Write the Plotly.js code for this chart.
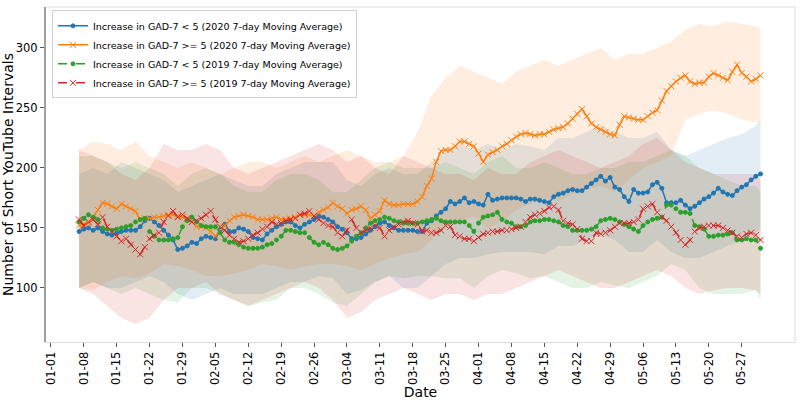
<!DOCTYPE html>
<html>
<head>
<meta charset="utf-8">
<script src="https://cdn.plot.ly/plotly-3.0.1.min.js"></script>
<style>html,body{margin:0;padding:0;background:#fff}#chart{width:800px;height:400px}</style>
</head>
<body>
<div id="chart"></div>
<script>
// Daily 7-day moving averages, 2020-01-07 .. 2020-05-31
const seriesStart = '2020-01-07';
const blue2020Low = [147,149,150,148,150,147,145,144,146,147,148,148,148,151,156,158,155,152,148,144,140,132,133,135,138,137,141,143,142,141,148,153,147,147,150,149,147,142,141,140,145,148,151,153,155,155,152,150,153,155,157,160,159,157,155,151,149,146,141,141,142,145,148,151,154,155,152,150,148,148,148,148,147,147,154,156,160,163,166,172,170,172,175,171,172,170,169,178,173,174,175,175,175,175,174,172,174,174,173,172,171,176,178,179,181,182,181,181,184,187,190,193,189,192,184,182,176,172,182,179,179,180,186,188,183,171,171,171,173,169,166,168,171,174,176,179,183,180,178,177,181,184,186,190,193,195];
const orange2020High = [152,153,154,159,165,171,170,168,166,170,168,166,164,157,158,158,159,159,160,161,161,160,159,157,155,151,151,150,147,143,148,152,156,159,160,161,160,159,157,157,157,158,159,157,157,158,159,161,161,161,160,163,165,167,171,168,166,162,165,166,168,165,158,161,164,173,170,169,169,170,170,170,172,176,185,191,205,214,215,215,218,222,222,220,218,212,205,211,213,215,218,220,223,226,228,229,228,227,228,228,230,232,233,234,237,241,245,249,243,237,234,232,230,228,227,236,243,242,241,240,240,243,246,248,256,264,268,272,275,277,272,270,271,271,276,279,277,275,273,280,286,279,276,272,274,277];
const green2019Low = [155,158,161,159,157,150,149,148,149,150,151,152,155,157,158,147,143,140,140,140,141,142,151,156,159,155,152,151,151,151,146,140,138,138,136,134,133,133,133,134,136,137,140,143,148,148,147,146,146,142,138,136,138,136,133,132,133,135,139,143,146,150,154,156,157,159,158,156,155,154,154,154,154,155,156,157,158,156,155,155,155,155,155,152,147,154,159,160,161,163,157,155,154,151,151,152,155,156,156,157,157,156,155,152,151,148,148,148,148,149,151,156,157,158,157,155,153,151,149,147,152,155,157,158,159,169,169,166,163,163,162,152,151,149,143,143,144,144,145,146,140,140,141,140,140,133];
const red2019High = [157,152,155,157,153,159,151,147,143,139,141,136,132,128,134,141,144,146,155,160,164,159,161,158,155,156,158,161,164,157,151,148,144,141,138,139,141,144,146,149,151,155,153,154,156,157,158,161,162,164,160,157,154,152,151,146,143,148,157,150,146,148,150,152,150,143,148,151,153,155,156,154,153,147,148,146,146,148,152,151,144,143,141,141,139,142,145,146,147,147,148,148,149,150,151,155,159,161,162,164,167,168,165,156,154,153,149,141,139,139,146,145,146,148,151,154,154,154,155,157,166,168,170,163,159,156,151,146,140,136,140,147,150,151,152,152,152,150,148,146,143,142,145,146,144,140];

// Shaded spread, sampled every 3 days
const bandDates = ['2020-01-07','2020-01-10','2020-01-13','2020-01-16','2020-01-19','2020-01-22','2020-01-25','2020-01-28','2020-01-31','2020-02-03','2020-02-06','2020-02-09','2020-02-12','2020-02-15','2020-02-18','2020-02-21','2020-02-24','2020-02-27','2020-03-01','2020-03-04','2020-03-07','2020-03-10','2020-03-13','2020-03-16','2020-03-19','2020-03-22','2020-03-25','2020-03-28','2020-03-31','2020-04-03','2020-04-06','2020-04-09','2020-04-12','2020-04-15','2020-04-18','2020-04-21','2020-04-24','2020-04-27','2020-04-30','2020-05-03','2020-05-06','2020-05-09','2020-05-12','2020-05-15','2020-05-18','2020-05-21','2020-05-24','2020-05-27','2020-05-30','2020-05-31'];
const blueUpper = [195,200,195,205,200,195,190,180,185,190,195,190,185,185,195,200,205,205,205,190,185,195,200,195,195,205,215,220,215,220,215,220,218,215,225,225,230,235,230,225,225,230,215,210,215,220,225,228,235,240];
const blueLower = [100,105,100,100,105,110,105,95,90,95,100,95,95,95,100,105,105,110,108,95,98,105,110,100,100,110,120,125,125,128,130,130,130,128,135,135,140,145,140,130,130,140,130,125,125,130,135,140,145,150];
const orangeUpper = [215,222,220,215,222,210,205,200,205,200,195,200,205,205,200,205,210,205,210,215,210,205,205,210,230,260,275,285,280,275,270,280,285,290,285,290,295,300,290,295,295,300,305,315,320,318,322,320,318,316];
const orangeLower = [100,98,105,110,108,112,120,118,115,110,110,112,115,120,118,115,118,120,120,118,115,120,125,128,130,140,150,155,160,150,155,165,170,175,172,178,182,185,180,190,200,205,210,240,245,248,245,240,238,238];
const greenUpper = [210,210,205,200,205,200,195,185,195,200,195,185,180,180,190,195,195,190,180,180,190,200,205,200,200,200,205,200,195,205,210,200,200,205,200,195,195,200,200,205,205,210,215,210,200,195,190,185,185,180];
const greenLower = [100,105,100,95,100,95,90,88,100,100,95,90,85,88,90,100,100,95,88,85,95,105,110,108,110,110,108,108,100,110,115,112,108,110,105,100,100,105,102,100,105,110,120,115,100,95,95,95,98,90];
const redUpper = [215,210,205,195,190,200,220,215,215,220,215,200,195,200,205,210,215,220,215,205,210,200,195,210,205,200,195,195,190,200,195,195,205,210,215,210,205,200,205,210,220,225,215,205,200,195,195,195,195,190];
const redLower = [100,95,85,75,70,75,90,100,100,105,95,90,85,90,95,100,105,100,90,75,80,90,95,100,95,90,95,95,90,95,95,100,105,110,115,110,105,100,100,105,110,115,110,100,95,98,100,100,98,95];

const tickLabels = ['01-01','01-08','01-15','01-22','01-29','02-05','02-12','02-19','02-26','03-04','03-11','03-18','03-25','04-01','04-08','04-15','04-22','04-29','05-06','05-13','05-20','05-27'];

const seriesNames = [
  'Increase in GAD-7 < 5 (2020 7-day Moving Average)',
  'Increase in GAD-7 >= 5 (2020 7-day Moving Average)',
  'Increase in GAD-7 < 5 (2019 7-day Moving Average)',
  'Increase in GAD-7 >= 5 (2019 7-day Moving Average)'
];

function buildDates(start, n) {
  const out = [];
  const d0 = new Date(start + 'T00:00:00Z');
  for (let i = 0; i < n; i++) {
    const d = new Date(d0.getTime() + i * 86400000);
    out.push(d.toISOString().slice(0, 10));
  }
  return out;
}
const dates = buildDates(seriesStart, blue2020Low.length);

const colors = ['#1f77b4', '#ff7f0e', '#2ca02c', '#d62728'];
const fills = ['rgba(31,119,180,0.13)', 'rgba(255,127,14,0.13)', 'rgba(44,160,44,0.13)', 'rgba(214,39,40,0.13)'];
const bands = [[blueUpper, blueLower], [orangeUpper, orangeLower], [greenUpper, greenLower], [redUpper, redLower]];
const lines = [blue2020Low, orange2020High, green2019Low, red2019High];
const dashes = ['solid', 'solid', 'dash', 'dash'];
const symbols = ['circle', 'x-thin', 'circle', 'x-thin'];
const msizes = [4, 6, 4, 6];

const traces = [];
bands.forEach((b, i) => {
  traces.push({
    x: bandDates.concat(bandDates.slice().reverse()),
    y: b[0].concat(b[1].slice().reverse()),
    type: 'scatter', mode: 'lines', fill: 'toself',
    fillcolor: fills[i], line: {width: 0}, hoverinfo: 'skip', showlegend: false
  });
});
lines.forEach((v, i) => {
  traces.push({
    x: dates, y: v, type: 'scatter', mode: 'lines+markers', name: seriesNames[i],
    line: {color: colors[i], width: 1.5, dash: dashes[i]},
    marker: {symbol: symbols[i], size: msizes[i], color: colors[i], line: {color: colors[i], width: 1}}
  });
});

const layout = {
  width: 800, height: 400,
  margin: {l: 46, r: 5, t: 7, b: 58},
  paper_bgcolor: '#fff', plot_bgcolor: '#fff',
  font: {family: 'DejaVu Sans, sans-serif', color: '#000'},
  showlegend: true,
  legend: {
    x: 0.008, y: 0.99, xanchor: 'left', yanchor: 'top',
    bgcolor: 'rgba(255,255,255,0.85)', bordercolor: '#d0d0d0', borderwidth: 1,
    font: {size: 9.5, family: 'DejaVu Sans, sans-serif'}, tracegroupgap: 0, itemwidth: 30
  },
  xaxis: {
    type: 'date',
    range: ['2019-12-30 23:00', '2020-06-07 08:00'],
    tickvals: tickLabels.map(t => '2020-' + t), ticktext: tickLabels,
    tickangle: -90, ticks: 'outside', ticklen: 4, tickcolor: '#555',
    tickfont: {size: 11.5},
    showgrid: false, zeroline: false,
    showline: true, linecolor: '#dddddd', linewidth: 1,
    title: {text: 'Date', font: {size: 14}, standoff: 0}
  },
  yaxis: {
    range: [55, 334],
    tickvals: [100, 150, 200, 250, 300],
    ticks: 'outside', ticklen: 4, tickcolor: '#555',
    tickfont: {size: 11.5},
    showgrid: false, zeroline: false,
    showline: true, linecolor: '#a0a0a0', linewidth: 2,
    title: {text: 'Number of Short YouTube Intervals', font: {size: 14}, standoff: 6}
  },
  shapes: [
    {type: 'line', xref: 'paper', yref: 'paper', x0: 0, x1: 1, y0: 1, y1: 1, line: {color: '#dddddd', width: 1}},
    {type: 'line', xref: 'paper', yref: 'paper', x0: 1, x1: 1, y0: 0, y1: 1, line: {color: '#dddddd', width: 1}}
  ]
};

Plotly.newPlot('chart', traces, layout, {displayModeBar: false, staticPlot: true});
</script>
</body>
</html>
